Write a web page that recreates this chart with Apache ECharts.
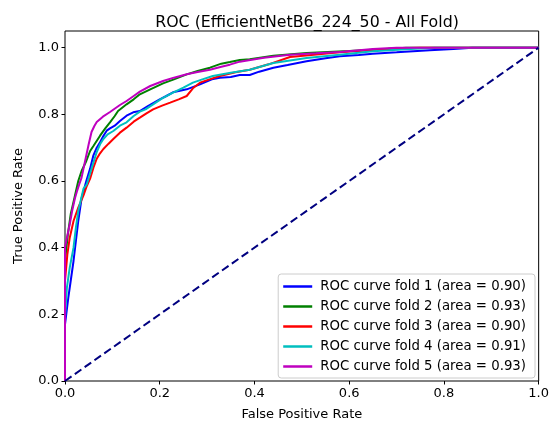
<!DOCTYPE html>
<html><head><meta charset="utf-8">
<script src="https://cdn.jsdelivr.net/npm/echarts@6/dist/echarts.min.js"></script>
<style>html,body{margin:0;padding:0;background:#fff}#c{width:552px;height:426px}</style>
</head><body><div id="c"></div>
<script>
const titleText = 'ROC (EfficientNetB6_224_50 - All Fold)';
const xTicks = [0, 0.2, 0.4, 0.6, 0.8, 1.0];
const yTicks = [0, 0.2, 0.4, 0.6, 0.8, 1.0];
const seriesNames = [
  'ROC curve fold 1 (area = 0.90)',
  'ROC curve fold 2 (area = 0.93)',
  'ROC curve fold 3 (area = 0.90)',
  'ROC curve fold 4 (area = 0.91)',
  'ROC curve fold 5 (area = 0.93)'
];
const fold1 = [[0,0],[0,0.17],[0.007,0.25],[0.012,0.3],[0.018,0.36],[0.023,0.42],[0.028,0.48],[0.035,0.548],[0.045,0.6],[0.053,0.637],[0.06,0.677],[0.067,0.70],[0.074,0.716],[0.081,0.735],[0.088,0.751],[0.095,0.758],[0.105,0.766],[0.116,0.78],[0.13,0.796],[0.144,0.806],[0.158,0.81],[0.175,0.825],[0.2,0.845],[0.214,0.855],[0.228,0.866],[0.257,0.875],[0.285,0.89],[0.31,0.905],[0.327,0.91],[0.35,0.912],[0.369,0.918],[0.39,0.918],[0.41,0.928],[0.44,0.94],[0.47,0.948],[0.51,0.959],[0.55,0.968],[0.58,0.974],[0.62,0.978],[0.65,0.982],[0.7,0.986],[0.77,0.992],[0.82,0.996],[0.86,1.0],[1,1]];
const fold2 = [[0,0],[0,0.36],[0.006,0.44],[0.012,0.5],[0.02,0.55],[0.028,0.6],[0.035,0.63],[0.045,0.66],[0.053,0.69],[0.06,0.705],[0.074,0.736],[0.085,0.758],[0.095,0.776],[0.105,0.795],[0.112,0.81],[0.13,0.83],[0.145,0.845],[0.158,0.86],[0.18,0.875],[0.207,0.893],[0.23,0.905],[0.257,0.92],[0.28,0.93],[0.306,0.94],[0.33,0.952],[0.348,0.957],[0.369,0.963],[0.39,0.965],[0.44,0.976],[0.51,0.984],[0.6,0.99],[0.68,0.996],[0.72,1.0],[1,1]];
const fold3 = [[0,0],[0,0.3],[0.005,0.38],[0.01,0.43],[0.018,0.48],[0.028,0.52],[0.039,0.557],[0.046,0.585],[0.053,0.607],[0.06,0.64],[0.067,0.667],[0.074,0.683],[0.081,0.696],[0.092,0.712],[0.102,0.726],[0.116,0.745],[0.13,0.76],[0.145,0.778],[0.158,0.79],[0.172,0.803],[0.186,0.815],[0.205,0.826],[0.222,0.835],[0.24,0.845],[0.257,0.855],[0.27,0.878],[0.285,0.895],[0.305,0.905],[0.327,0.915],[0.36,0.926],[0.39,0.934],[0.43,0.95],[0.475,0.972],[0.52,0.978],[0.58,0.986],[0.64,0.992],[0.7,0.998],[0.75,1.0],[1,1]];
const fold4 = [[0,0],[0,0.19],[0.004,0.28],[0.01,0.34],[0.018,0.40],[0.023,0.46],[0.028,0.51],[0.039,0.577],[0.046,0.59],[0.056,0.637],[0.067,0.687],[0.074,0.71],[0.081,0.726],[0.09,0.74],[0.102,0.75],[0.116,0.766],[0.13,0.776],[0.145,0.795],[0.158,0.808],[0.17,0.815],[0.186,0.83],[0.205,0.848],[0.228,0.865],[0.25,0.88],[0.27,0.895],[0.29,0.905],[0.312,0.915],[0.35,0.925],[0.39,0.934],[0.44,0.954],[0.51,0.969],[0.58,0.979],[0.65,0.989],[0.72,0.995],[0.78,1.0],[1,1]];
const fold5 = [[0,0],[0,0.4],[0.004,0.43],[0.01,0.47],[0.015,0.51],[0.021,0.548],[0.025,0.568],[0.03,0.59],[0.035,0.61],[0.042,0.657],[0.05,0.71],[0.056,0.747],[0.062,0.765],[0.067,0.777],[0.08,0.793],[0.095,0.807],[0.11,0.822],[0.116,0.828],[0.13,0.84],[0.145,0.855],[0.158,0.868],[0.18,0.885],[0.207,0.9],[0.23,0.91],[0.257,0.92],[0.28,0.927],[0.306,0.934],[0.33,0.943],[0.348,0.949],[0.369,0.958],[0.42,0.97],[0.475,0.979],[0.53,0.983],[0.58,0.987],[0.65,0.996],[0.7,1.0],[1,1]];
const chanceLine = [[0,0],[1,1]];
const colors = ['#0000ff', '#008000', '#ff0000', '#00bfbf', '#bf00bf'];

const FONT = 'DejaVu Sans';
const chart = echarts.init(document.getElementById('c'), null, {renderer: 'canvas'});
const folds = [fold1, fold2, fold3, fold4, fold5];
const series = folds.map((d, i) => ({
  name: seriesNames[i], type: 'line', data: d, showSymbol: false, symbol: 'none',
  lineStyle: {color: colors[i], width: 2}, itemStyle: {color: colors[i]},
  animation: false, z: 2
}));
series.push({
  name: 'chance', type: 'line', data: chanceLine, showSymbol: false, symbol: 'none',
  lineStyle: {color: '#000080', width: 2, type: [8, 4]}, animation: false, z: 3
});
chart.setOption({
  animation: false,
  backgroundColor: '#fff',
  title: {text: titleText, left: 302, top: 10, textAlign: 'center',
    textStyle: {fontFamily: FONT, fontSize: 15.8, fontWeight: 'normal', color: '#000'}},
  grid: {left: 65, right: 13, top: 31, bottom: 42, show: true, borderColor: '#000', borderWidth: 1, backgroundColor: 'transparent'},
  legend: {
    data: seriesNames, orient: 'vertical', right: 17, bottom: 48,
    icon: 'rect', itemWidth: 29, itemHeight: 2.5, itemGap: 5,
    padding: [5, 9, 4, 5], borderColor: '#cccccc', borderWidth: 1, borderRadius: 3,
    backgroundColor: 'rgba(255,255,255,0.8)',
    textStyle: {fontFamily: FONT, fontSize: 13.3, color: '#000', lineHeight: 15, padding: [0, 0, 0, 3]}
  },
  xAxis: {
    type: 'value', min: 0, max: 1, interval: 0.2,
    name: 'False Positive Rate', nameLocation: 'middle', nameGap: 27,
    nameTextStyle: {fontFamily: FONT, fontSize: 13, color: '#000'},
    axisLine: {show: false}, splitLine: {show: false},
    axisTick: {show: true, length: 3.5, lineStyle: {color: '#000'}, customValues: xTicks},
    axisLabel: {fontFamily: FONT, fontSize: 13, color: '#000', margin: 6, customValues: xTicks,
      formatter: v => v.toFixed(1)}
  },
  yAxis: {
    type: 'value', min: 0, max: 1.05, interval: 0.2,
    name: 'True Positive Rate', nameLocation: 'middle', nameGap: 40,
    nameTextStyle: {fontFamily: FONT, fontSize: 13, color: '#000'},
    axisLine: {show: false}, splitLine: {show: false},
    axisTick: {show: true, length: 3.5, lineStyle: {color: '#000'}, customValues: yTicks},
    axisLabel: {fontFamily: FONT, fontSize: 13, color: '#000', margin: 6, customValues: yTicks,
      formatter: v => v.toFixed(1)}
  },
  series: series
});
</script></body></html>
